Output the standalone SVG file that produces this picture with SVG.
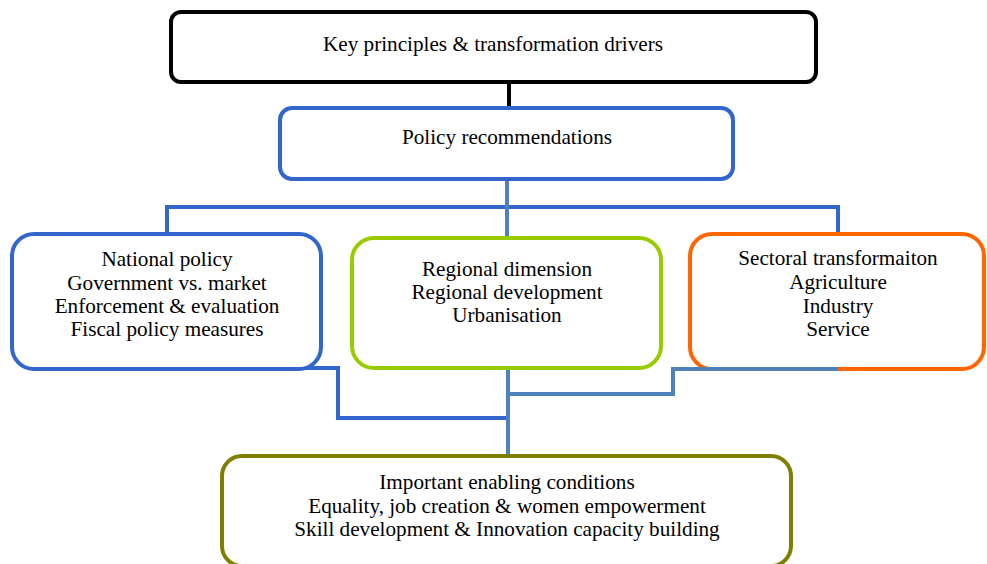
<svg xmlns="http://www.w3.org/2000/svg" width="987" height="564" viewBox="0 0 987 564">
<style>
.box{fill:#fff;stroke-width:4}
.t{font-family:"Liberation Serif","Times New Roman",serif;font-size:21.2px;fill:#000;text-anchor:middle;dominant-baseline:middle}
.c{fill:none;stroke-width:4;stroke-linejoin:miter}
</style>
<rect width="987" height="564" fill="#fff"/>
<g id="connectors">
<line class="c" x1="509" y1="82" x2="509" y2="108" stroke="#000"/>
<path class="c" d="M167 234 V207 H838 V234" stroke="#3366cc"/>
<line class="c" x1="507" y1="179" x2="507" y2="238" stroke="#4f81bd"/>
<path class="c" d="M167 368 H338 V418 H509" stroke="#3366cc"/>
<path class="c" d="M838 369 H673 V394 H508" stroke="#4f81bd"/>
<line class="c" x1="508" y1="368" x2="508" y2="456" stroke="#4f81bd"/>
</g>
<g id="key">
<rect class="box" x="171" y="12" width="645" height="70" rx="10" stroke="#000"/>
<text class="t" x="493" y="46">Key principles &amp; transformation drivers</text>
</g>
<g id="policy">
<rect class="box" x="280" y="108" width="453" height="71" rx="12" stroke="#3366cc"/>
<text class="t" x="507" y="139">Policy recommendations</text>
</g>
<g id="national">
<rect class="box" x="12" y="234" width="309" height="135" rx="22" stroke="#3366cc"/>
<text class="t" x="167" y="261">National policy</text>
<text class="t" x="167" y="285">Government vs. market</text>
<text class="t" x="167" y="308">Enforcement &amp; evaluation</text>
<text class="t" x="167" y="331">Fiscal policy measures</text>
</g>
<g id="regional">
<rect class="box" x="352" y="238" width="309" height="130" rx="22" stroke="#99cc00"/>
<text class="t" x="507" y="271">Regional dimension</text>
<text class="t" x="507" y="294">Regional development</text>
<text class="t" x="507" y="317">Urbanisation</text>
</g>
<g id="sectoral">
<rect class="box" x="690" y="234" width="294" height="135" rx="22" stroke="#ff6600"/>
<text class="t" x="838" y="260">Sectoral transformaiton</text>
<text class="t" x="838" y="284">Agriculture</text>
<text class="t" x="838" y="308">Industry</text>
<text class="t" x="838" y="331">Service</text>
</g>
<line class="c" x1="673" y1="369" x2="838" y2="369" stroke="#4f81bd"/>
<g id="enabling">
<rect class="box" x="222" y="456" width="569" height="110" rx="20" stroke="#808000"/>
<text class="t" x="507" y="484">Important enabling conditions</text>
<text class="t" x="507" y="508">Equality, job creation &amp; women empowerment</text>
<text class="t" x="507" y="531">Skill development &amp; Innovation capacity building</text>
</g>
</svg>
